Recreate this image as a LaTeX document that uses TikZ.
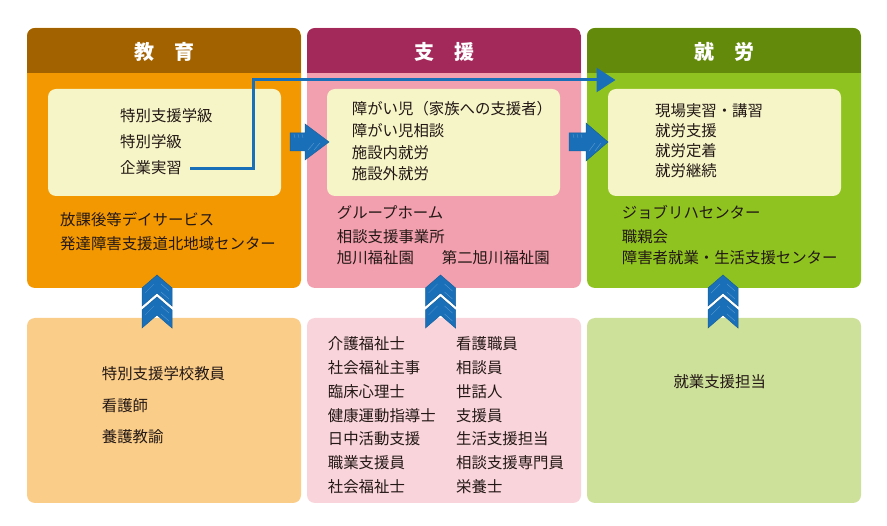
\documentclass[tikz,border=0pt]{standalone}
\usepackage{fontspec}
\newfontfamily\jp{Noto Sans CJK JP}
\usetikzlibrary{arrows.meta}
\definecolor{hdrA}{HTML}{A36200}
\definecolor{bodyA}{HTML}{F39800}
\definecolor{hdrB}{HTML}{A3295B}
\definecolor{bodyB}{HTML}{F2A0AF}
\definecolor{hdrC}{HTML}{648A0C}
\definecolor{bodyC}{HTML}{8FC31F}
\definecolor{inner}{HTML}{F6F5C8}
\definecolor{lowA}{HTML}{FACD89}
\definecolor{lowB}{HTML}{F9D4DA}
\definecolor{lowC}{HTML}{CEE19A}
\definecolor{blu}{HTML}{1A70B8}
\definecolor{bluD}{HTML}{14609F}
\definecolor{ink}{HTML}{231815}
\tikzset{
  txt/.style={anchor=base west, inner sep=0pt, text=ink, font=\jp\fontsize{15.4}{18}\selectfont},
  hdr/.style={anchor=base, inner sep=0pt, text=white, font=\jp\bfseries\fontsize{20}{24}\selectfont},
  panel/.style={rounded corners=8pt},
  hatch/.style={white, opacity=0.3, line width=0.35pt},
  chevron/.pic={
    \fill[blu, draw=bluD, line width=0.5pt] (0,0) -- (15,13) -- (15,31) -- (0,18) -- (-15,31) -- (-15,13) -- cycle;
    \begin{scope}
      \clip (0,0) -- (15,13) -- (15,31) -- (0,18) -- (-15,31) -- (-15,13) -- cycle;
      \foreach \k in {8,16} {\draw[hatch] (-12,\k+2) -- (-3,\k-7); \draw[hatch] (4,\k+1) -- (12,\k+8);}
    \end{scope}
  },
}
\begin{document}
\begin{tikzpicture}[x=1pt,y=-1pt]
\useasboundingbox (0,0) rectangle (887,526);
\fill[white] (0,0) rectangle (887,526);
% top panels
\fill[panel,bodyA] (27,28) rectangle (301,288);
\fill[panel,bodyB] (307,28) rectangle (581,288);
\fill[panel,bodyC] (587,28) rectangle (861,288);
\begin{scope}\clip[panel] (27,28) rectangle (301,288); \fill[hdrA] (27,28) rectangle (301,73);\end{scope}
\begin{scope}\clip[panel] (307,28) rectangle (581,288); \fill[hdrB] (307,28) rectangle (581,73);\end{scope}
\begin{scope}\clip[panel] (587,28) rectangle (861,288); \fill[hdrC] (587,28) rectangle (861,73);\end{scope}
\fill[panel,inner] (48,89) rectangle (281,196);
\fill[panel,inner] (327,89) rectangle (560,196);
\fill[panel,inner] (608,89) rectangle (841,196);
% bottom panels
\fill[panel,lowA] (27,318) rectangle (301,503);
\fill[panel,lowB] (307,318) rectangle (581,503);
\fill[panel,lowC] (587,318) rectangle (861,503);
% headers
\node[hdr] (hA) at (164,59.5) {教　育};
\node[hdr] (hB) at (444,59.5) {支　援};
\node[hdr] (hC) at (724,59.5) {就　労};
% left panel texts
\node[txt] (a1) at (120,121.2) {特別支援学級};
\node[txt] (a2) at (120,147.4) {特別学級};
\node[txt] (a3) at (120,174) {企業実習};
\node[txt] (a4) at (60,225.2) {放課後等デイサービス};
\node[txt] (a5) at (60,249.7) {発達障害支援道北地域センター};
% middle panel texts
\node[txt] (b1) at (351.7,115) {障がい児（家族への支援者）};
\node[txt] (b2) at (351.7,136.7) {障がい児相談};
\node[txt] (b3) at (351.7,158.4) {施設内就労};
\node[txt] (b4) at (351.7,179.4) {施設外就労};
\node[txt] (b5) at (336.7,219) {グループホーム};
\node[txt] (b6) at (336.7,242.4) {相談支援事業所};
\node[txt] (b7) at (336.7,264) {旭川福祉園};
\node[txt] (b8) at (441.7,264) {第二旭川福祉園};
% right panel texts
\node[txt] (c1) at (655,116.4) {現場実習・講習};
\node[txt] (c2) at (655,136.7) {就労支援};
\node[txt] (c3) at (655,156.4) {就労定着};
\node[txt] (c4) at (655,176.4) {就労継続};
\node[txt] (c5) at (621.7,218.4) {ジョブリハセンター};
\node[txt] (c6) at (621.7,242.4) {職親会};
\node[txt] (c7) at (621.7,264) {障害者就業・生活支援センター};
% bottom texts
\node[txt] (d1) at (101.7,380) {特別支援学校教員};
\node[txt] (d2) at (101.7,411.4) {看護師};
\node[txt] (d3) at (101.7,442.4) {養護教諭};
\foreach \t [count=\i from 0] in {介護福祉士,社会福祉主事,臨床心理士,健康運動指導士,日中活動支援,職業支援員,社会福祉士}
  \node[txt] (e\i) at (327.7,350+23.7*\i) {\t};
\foreach \t [count=\i from 0] in {看護職員,相談員,世話人,支援員,生活支援担当,相談支援専門員,栄養士}
  \node[txt] (f\i) at (456,350+23.7*\i) {\t};
\node[txt] (g1) at (673.3,388) {就業支援担当};
% block arrows
\fill[blu, draw=bluD, line width=0.5pt] (290,133) -- (305,133) -- (305,124) -- (329,142) -- (305,160) -- (305,151) -- (290,151) -- cycle;
\fill[blu, draw=bluD, line width=0.5pt] (569,133) -- (586,133) -- (586,123) -- (608,142) -- (586,161) -- (586,151) -- (569,151) -- cycle;
\begin{scope}
  \clip (290,133) -- (305,133) -- (305,124) -- (329,142) -- (305,160) -- (305,151) -- (290,151) -- cycle;
  \foreach \k in {294,298,302} \draw[hatch] (\k,134) -- (\k+1,138);
  \foreach \k in {0,6} \draw[hatch] (308+\k,150) -- (314+\k,143);
\end{scope}
\begin{scope}
  \clip (569,133) -- (586,133) -- (586,123) -- (608,142) -- (586,161) -- (586,151) -- (569,151) -- cycle;
  \foreach \k in {573,577,581} \draw[hatch] (\k,134) -- (\k+1,138);
  \foreach \k in {0,6} \draw[hatch] (589+\k,151) -- (595+\k,143);
\end{scope}
% line arrow
\coordinate (ls) at (190,169);
\coordinate (lt) at (615.5,80);
\draw[blu, line width=3pt, -{Triangle[length=19pt,width=24pt]}] (ls) -- (253.3,169) -- (253.3,80) -- (lt);
% chevrons
\pic at (157,275) {chevron}; \pic at (157,297) {chevron};
\pic at (440.5,275) {chevron}; \pic at (440.5,297) {chevron};
\pic at (723,275) {chevron}; \pic at (723,297) {chevron};
\end{tikzpicture}
\end{document}
